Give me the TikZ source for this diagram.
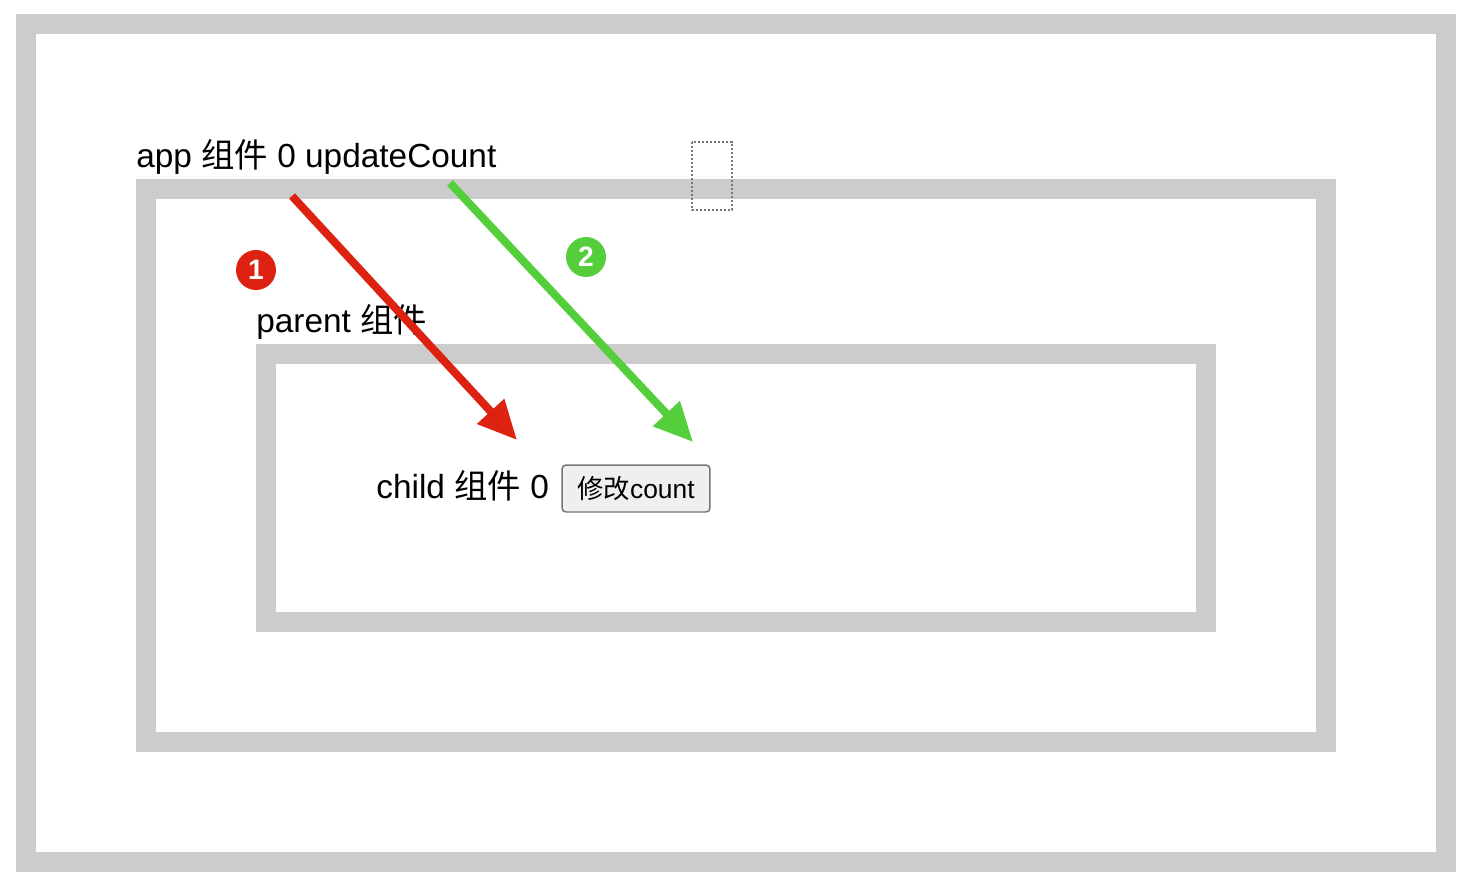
\documentclass[tikz,border=0pt]{standalone}
\usepackage{fontspec}
\setmainfont{Liberation Sans}
\newfontfamily\cjk{Noto Sans CJK SC}
\usetikzlibrary{arrows.meta}
\definecolor{framegray}{RGB}{204,204,204}
\definecolor{markred}{RGB}{221,34,17}
\definecolor{markgreen}{RGB}{85,206,59}
\definecolor{btnfill}{RGB}{239,239,239}
\definecolor{btnedge}{RGB}{118,118,118}
\definecolor{dotgray}{RGB}{119,119,119}
\tikzset{frame/.style={draw=framegray,line width=0.4cm},
 compname/.style={anchor=base west,inner sep=0pt,font=\fontsize{19}{21}\selectfont},
 badge/.style={circle,fill=#1,text=white,minimum size=0.8cm,inner sep=0pt,font=\fontsize{16}{16}\selectfont\bfseries},
 flow/.style={draw=#1,line width=0.16cm,-{Triangle[length=0.78cm,width=0.7cm,fill=#1]}},
 button/.style={draw=btnedge,fill=btnfill,line width=0.03cm,rounded corners=0.08cm,minimum width=2.96cm,minimum height=0.94cm,inner sep=0pt,font=\fontsize{15}{17}\selectfont}}

\begin{document}
\begin{tikzpicture}[x=0.02cm,y=-0.02cm]
  \useasboundingbox (0,0) rectangle (1484,882);
  \draw[frame] (26,24) rectangle (1446,862);
  \draw[frame] (146,189) rectangle (1326,742);
  \draw[frame] (266,354) rectangle (1206,622);
  \draw[dotgray,line width=0.04cm,dash pattern=on 0.04cm off 0.04cm] (692,142) rectangle (732,210);

  \node[compname] (applabel) at (136,168) {app {\cjk 组件} 0 updateCount};
  \node[compname] (parentlabel) at (256,332) {parent {\cjk 组件}};
  \node[compname] (childlabel) at (376,498) {child {\cjk 组件} 0};
  \node[button] (btn) at (636,488.5) {{\cjk 修改}count};

  \node[badge=markred] (one) at (256,270) {1};
  \node[badge=markgreen] (two) at (586,257) {2};

  \coordinate (redfrom) at (292,196);
  \coordinate (redto) at (517,440);
  \coordinate (greenfrom) at (450,183);
  \coordinate (greento) at (693,442);
  \draw[flow=markred] (redfrom) -- (redto);
  \draw[flow=markgreen] (greenfrom) -- (greento);
\end{tikzpicture}
\end{document}
